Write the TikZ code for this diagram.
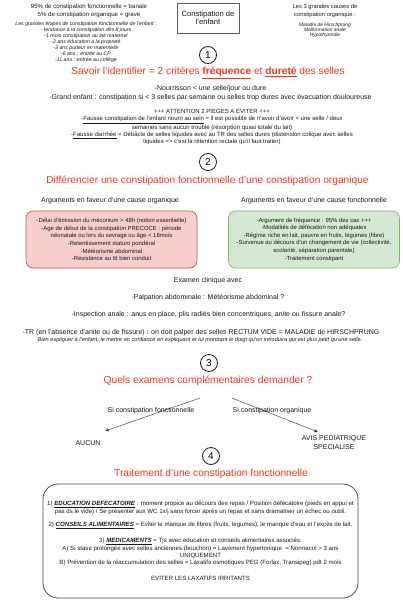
\documentclass[tikz,border=0pt]{standalone}
\usepackage{fontspec}
\setmainfont{Liberation Sans}
\usetikzlibrary{arrows.meta,positioning}
\definecolor{Alert}{HTML}{F5361E}
\definecolor{OrgFill}{HTML}{F8CECC}
\definecolor{OrgEdge}{HTML}{B85450}
\definecolor{FoncFill}{HTML}{D5E8D4}
\definecolor{FoncEdge}{HTML}{82B366}
\definecolor{Ink}{HTML}{1A1A1A}
\definecolor{Frame}{HTML}{4D4D4D}
\newcommand{\setsz}[2]{\fontsize{#1}{#2}\selectfont}
\tikzset{
  txt/.style={inner sep=0pt, align=center, text=Ink},
  intro/.style={txt, font=\setsz{6.1}{8.3}},
  stage/.style={txt, font=\itshape\setsz{5.2}{6}},
  heading/.style={txt, text=Alert, font=\setsz{10.2}{12}},
  stepnum/.style={circle, draw=Ink, line width=0.8pt, minimum size=17pt,
    inner sep=0pt, font=\setsz{10}{12}},
  body/.style={txt, font=\setsz{7}{9}},
  trap/.style={txt, font=\setsz{6}{7}},
  argbox/.style={rounded corners=7pt, line width=0.6pt, minimum width=171pt,
    minimum height=57pt, inner sep=0pt, align=center, text=Ink,
    font=\setsz{5.9}{7.6}},
  organic/.style={argbox, draw=OrgEdge, fill=OrgFill},
  functional/.style={argbox, draw=FoncEdge, fill=FoncFill},
  titlebox/.style={draw=Ink!70, line width=0.6pt, minimum width=62pt,
    minimum height=30pt, align=center, inner sep=0pt, text=Ink,
    font=\setsz{7.6}{8}},
  treatbox/.style={rounded corners=15pt, draw=Frame, line width=0.8pt,
    minimum width=315pt, minimum height=114pt, align=center, inner sep=0pt,
    text=Ink, font=\setsz{6.1}{7.3}},
  branch/.style={-{Triangle[length=3.5pt,width=3pt]}, draw=Ink!80, line width=0.5pt}
}
\begin{document}
\begin{tikzpicture}[x=1pt,y=-1pt]
  \fill[white] (0,0) rectangle (402,600);
  \useasboundingbox (0,0) rectangle (402,600);
  % header
  \node[intro] (stats) at (89,10.8) {95\% de constipation fonctionnelle = banale\\5\% de constipation organique = grave};
  \node[stage] (stages) at (86,42) {Les grandes étapes de constipation fonctionnelle de l'enfant :\\- tendance à la constipation dès 8 jours\\-1 mois constipation au lait maternel\\-2 ans éducation à la propreté\\-3 ans pudeur en maternelle\\-6 ans : entrée au CP\\-11 ans : entrée au collège};
  \node[titlebox] (topic) at (208,18) {Constipation de\\l'enfant};
  \node[intro, font=\setsz{5.8}{8.3}] (causes) at (325,10.8) {Les 3 grandes causes de\\constipation organique :};
  \node[stage, font=\itshape\setsz{4.9}{5}] (causelist) at (325,30) {Maladie de Hirschprung\\Malformation anale\\Hypothyroïdie};
  % 1
  \node[stepnum] (s1) at (208,55) {1};
  \node[heading] (h1) at (208,73) {Savoir l'identifier = 2 critères \underline{\textbf{fréquence}} et \underline{\textbf{dureté}} des selles};
  \node[body] (criteria) at (210.5,93.5) {-Nourrisson < une selle/jour ou dure\\-Grand enfant : constipation si < 3 selles par semaine ou selles trop dures avec évacuation douloureuse};
  \node[trap] (traps) at (212,127) {+++ ATTENTION 2 PIEGES A EVITER +++\\-\underline{Fausse constipation de l'enfant nourri au sein} = il est possible de n'avoir d'avoir < une selle / deux\\semaines sans aucun trouble (résorption quasi totale du lait)\\-\underline{Fausse diarrhée} = Débâcle de selles liquides avec au TR des selles dures (distension colique avec selles\\liquides => c'est la rétention rectale qu'il faut traiter)};
  % 2
  \node[stepnum] (s2) at (208,162) {2};
  \node[heading] (h2) at (207.5,181) {Différencier une constipation fonctionnelle d'une constipation organique};
  \node[body] (orgarg) at (110,201) {Arguments en faveur d'une cause organique};
  \node[body] (foncarg) at (314,201) {Arguments en faveur d'une cause fonctionnelle};
  \node[organic] (orgbox) at (111.5,239.5) {-Délai d'émission du méconium > 48h (notion essentielle)\\-Age de début de la constipation PRECOCE : période\\néonatale ou lors du sevrage ou âge < 18mois\\-Retentissement staturo pondéral\\-Météorisme abdominal\\-Résistance au ttt bien conduit};
  \node[functional] (foncbox) at (314,239.5) {-Argument de fréquence : 95\% des cas +++\\-Modalités de défécation non adéquates\\-Régime riche en lait, pauvre en fruits, légumes (fibre)\\-Survenue au décours d'un changement de vie (collectivité,\\scolarité, séparation parentale)\\-Traitement constipant};
  \node[body] (exam) at (208,280.7) {Examen clinique avec};
  \node[body] (palp) at (208,298) {-Palpation abdominale : Météorisme abdominal ?};
  \node[body] (insp) at (208.5,315) {-Inspection anale : anus en place, plis radiés bien concentriques, anite ou fissure anale?};
  \node[body] (tr) at (201,332.7) {-TR (en l'absence d'anite ou de fissure) : on doit palper des selles RECTUM VIDE = MALADIE de HIRSCHPRUNG};
  \node[txt, font=\itshape\setsz{5.6}{6}] (trnote) at (200,340) {Bien expliquer à l'enfant, le mettre en confiance en expliquant et lui montrant le doigt qu'on introduira qui est plus petit qu'une selle.};
  % 3
  \node[stepnum] (s3) at (209,363) {3};
  \node[heading] (h3) at (208,381) {Quels examens complémentaires demander ?};
  \coordinate (forkL) at (200,398);
  \coordinate (forkR) at (232,398);
  \coordinate (tipL) at (105,431);
  \coordinate (tipR) at (318,432);
  \node[body] (none) at (88,443) {AUCUN};
  \node[body] (avis) at (334,442.7) {AVIS PEDIATRIQUE\\SPECIALISE};
  \draw[branch] (forkL) -- (tipL);
  \draw[branch] (forkR) -- (tipR);
  \node[body] (ifFonc) at (151,411) {Si constipation fonctionnelle};
  \node[body] (ifOrg) at (272,411) {Si constipation organique};
  % 4
  \node[stepnum] (s4) at (211,456) {4};
  \node[heading] (h4) at (211,474) {Traitement d'une constipation fonctionnelle};
  \node[treatbox] (treat) at (200.5,541) {1) \underline{\textbf{\textit{EDUCATION DEFECATOIRE}}} : moment propice au décours des repas / Position défécatoire (pieds en appui et\\pas ds le vide) / Se présenter aux WC 1x/j sans forcer après un repas et sans dramatiser un échec ou oubli.\\[6.4pt]2) \underline{\textbf{\textit{CONSEILS ALIMENTAIRES}}} = Eviter le manque de fibres (fruits, légumes), le manque d'eau et l'excès de lait.\\[8.7pt]3) \underline{\textbf{\textit{MEDICAMENTS}}} = Tjs avec éducation et conseils alimentaires associés.\\A) Si stase prolongée avec selles anciennes (bouchon) = Lavement hypertonique \ = Normacol > 3 ans\\UNIQUEMENT\\B) Prévention de la réaccumulation des selles = Laxatifs osmotiques PEG (Forlax, Transipeg) pdt 2 mois\\[8.3pt]EVITER LES LAXATIFS IRRITANTS};
\end{tikzpicture}
\end{document}
